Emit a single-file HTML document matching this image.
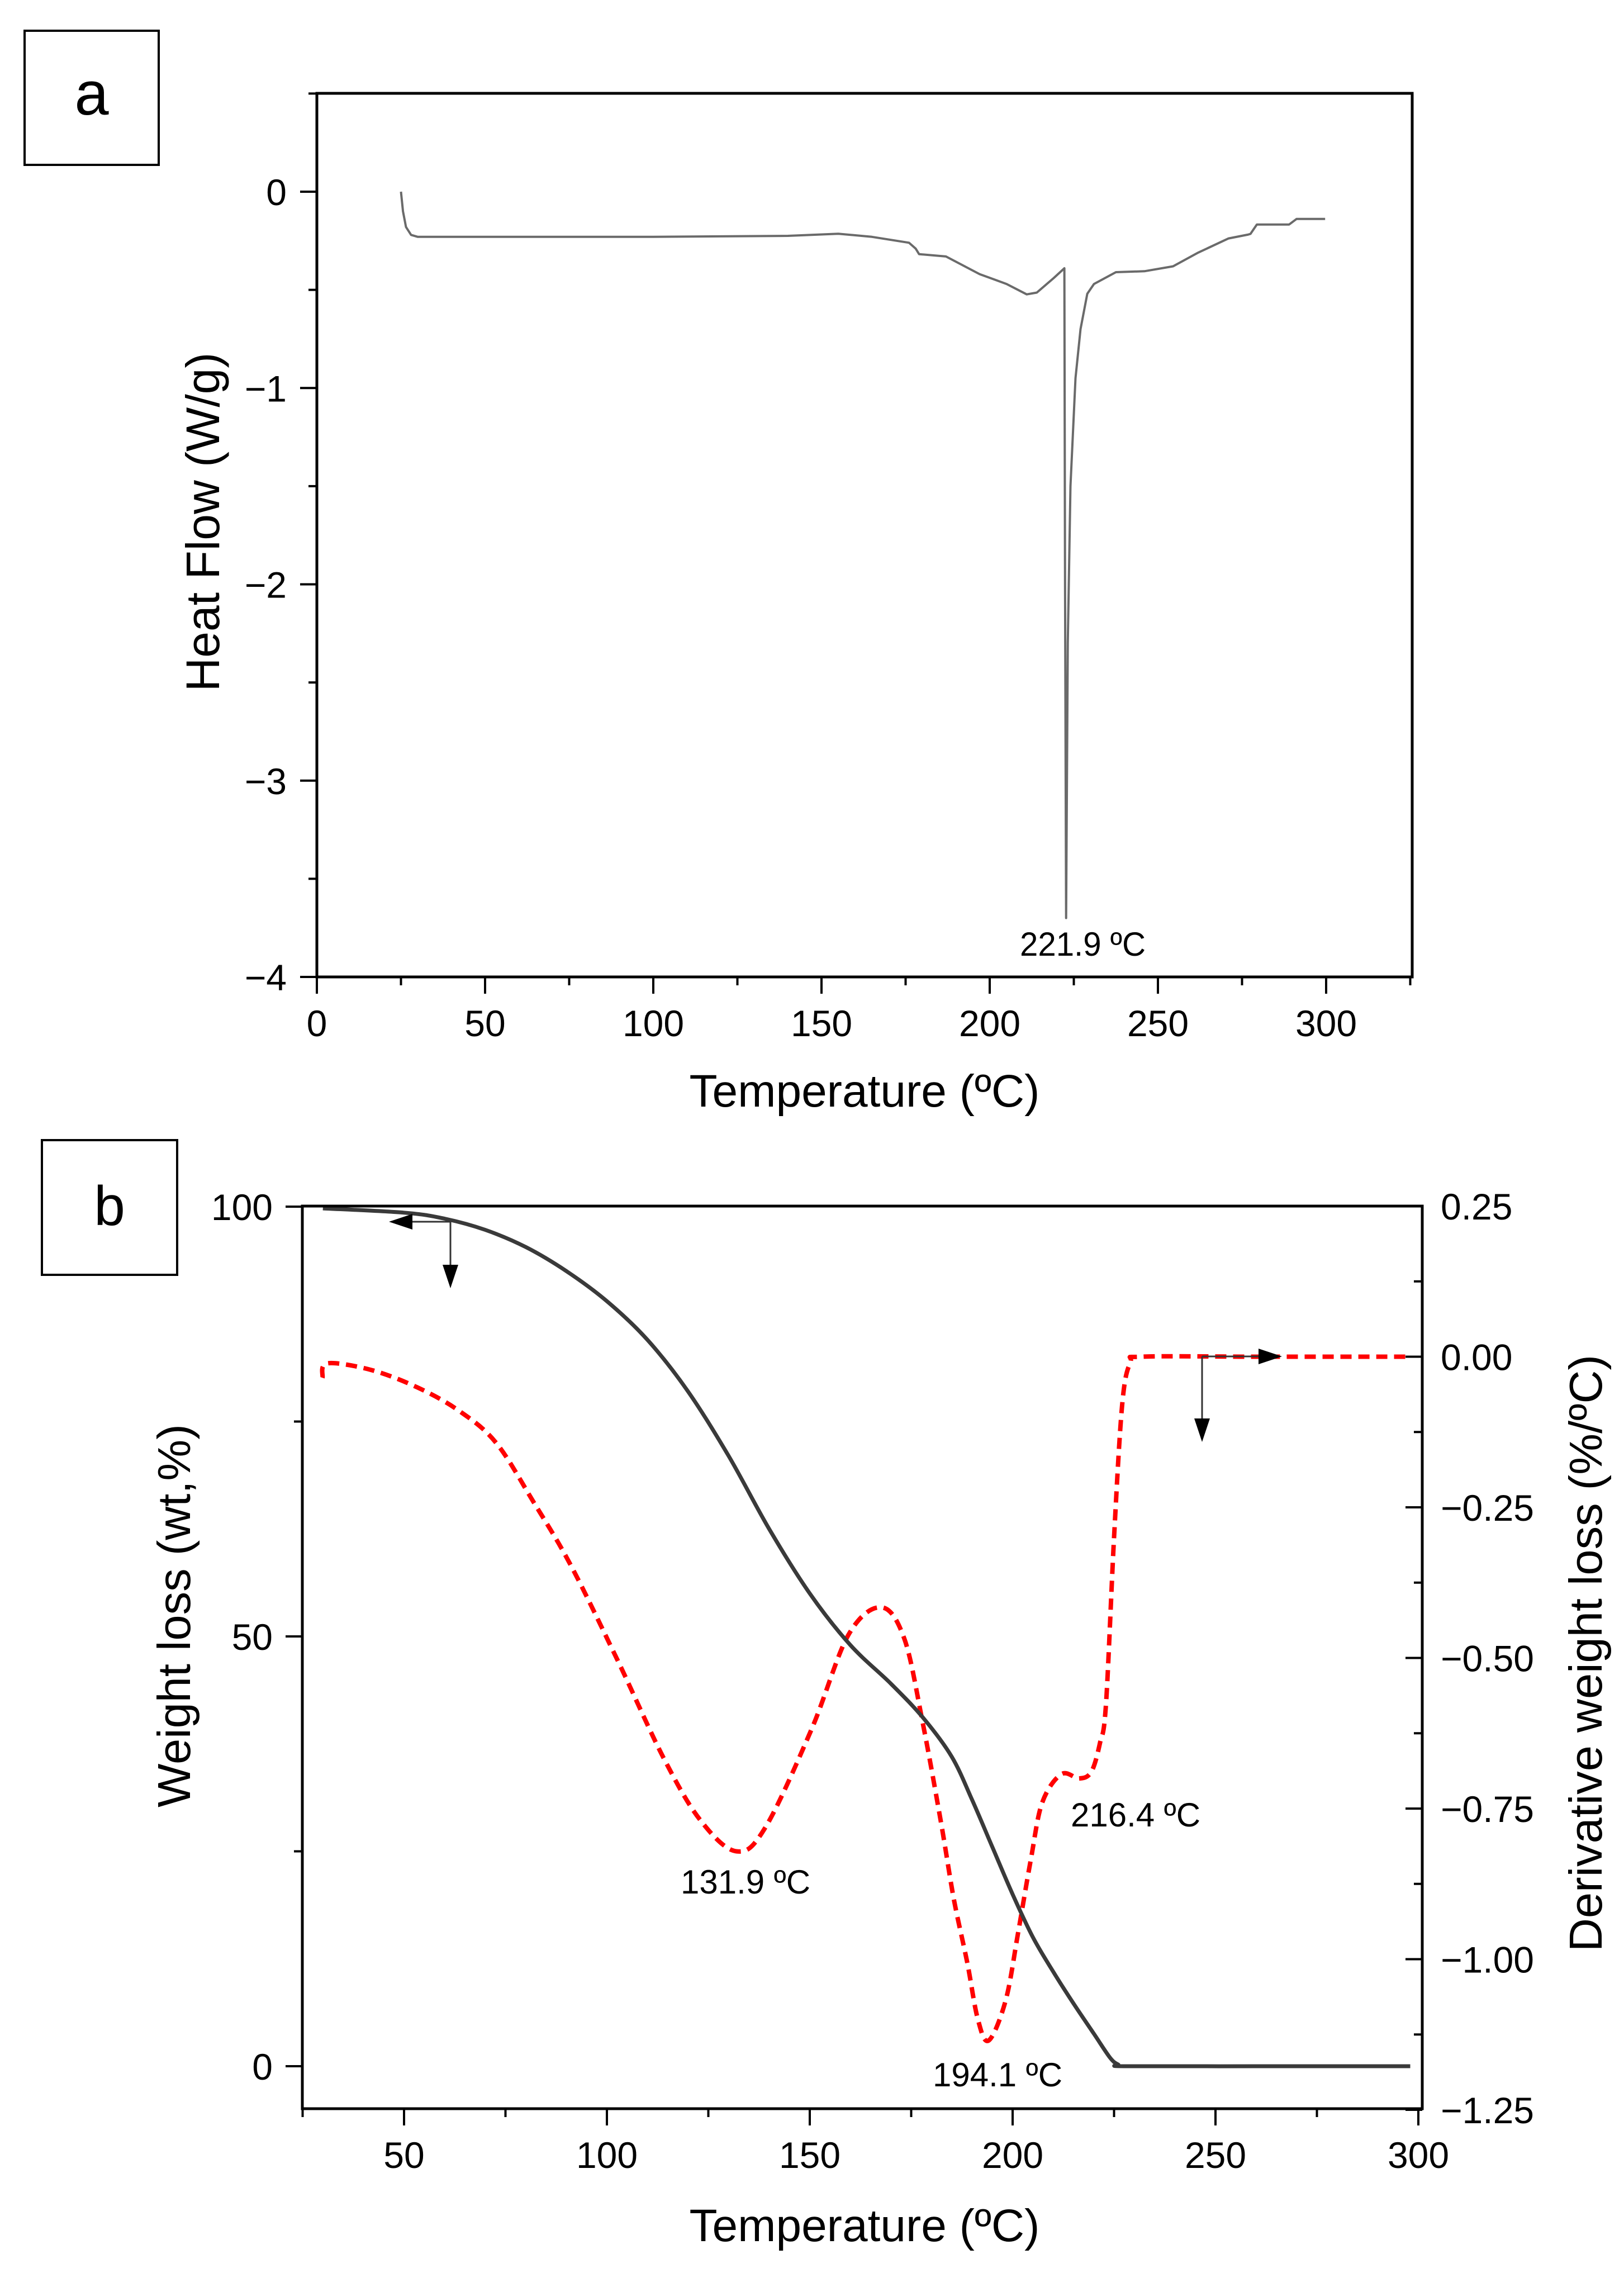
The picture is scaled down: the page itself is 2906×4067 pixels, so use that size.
<!DOCTYPE html>
<html><head><meta charset="utf-8"><style>
html,body{margin:0;padding:0;background:#fff;}
svg{display:block;font-family:"Liberation Sans",Arial,sans-serif;}
</style></head><body>
<svg id="fig" width="2906" height="4067" viewBox="0 0 2906 4067" xmlns="http://www.w3.org/2000/svg">
<rect x="0" y="0" width="2906" height="4067" fill="#fff"/>
<g>
<rect x="44" y="55" width="240" height="240" fill="none" stroke="#000" stroke-width="4"/>
<text x="164" y="205" font-size="110" text-anchor="middle">a</text>
</g>
<g>
<rect x="75" y="2040" width="242" height="241" fill="none" stroke="#000" stroke-width="4"/>
<text x="196" y="2192" font-size="100" text-anchor="middle">b</text>
</g>
<g id="chartA"></g>
<g id="chartB"></g>
</svg>
<script>
// ---- Panel a data (DSC) ----
const dscTemp = [25,25.6,26.5,28,30,50,100,140,155,165,176,178,179,187,197,205,211,214,219,222.2,222.4,222.7,223.2,224,225.5,227,229,231,237.5,246,254.5,262,271,276.7,277.5,279.4,289,291.2,299.7];
const dscHeat = [0,-0.1,-0.18,-0.22,-0.23,-0.23,-0.23,-0.225,-0.214,-0.23,-0.26,-0.29,-0.318,-0.33,-0.42,-0.47,-0.523,-0.514,-0.44,-0.39,-2.0,-3.7,-2.3,-1.5,-0.95,-0.7,-0.52,-0.47,-0.41,-0.405,-0.38,-0.31,-0.238,-0.219,-0.215,-0.167,-0.167,-0.139,-0.139];
const dscXTicks = [0,50,100,150,200,250,300];
const dscYTicks = [0,-1,-2,-3,-4];
// ---- Panel b data (TGA / DTG) ----
const tgaTemp = [30,50,60,70,80,90,100,110,120,130,140,150,160,170,178,185,190,195,200,205,210,215,220,224,226,228,260,298];
const tgaWeight = [99.8,99.3,98.6,97.3,95.3,92.5,89,84.5,78.5,71,62.5,55,49,44.5,40.5,36,31,25.5,20,15,11,7.3,3.8,1,0.2,0,0,0];
const dtgTemp = [29.9,31.1,41.9,53.3,63.6,72.7,81.9,91,102.5,113.9,123,131.9,139,150.4,159.5,167.6,173.3,177.8,182.4,185.5,188.8,191.4,194.1,198.3,201.4,204.5,207.3,212,216.4,219.4,221.5,223,225,227,229,232,260,298];
const dtgDeriv = [-0.035,-0.011,-0.022,-0.051,-0.09,-0.143,-0.241,-0.345,-0.502,-0.665,-0.769,-0.821,-0.782,-0.619,-0.462,-0.416,-0.468,-0.606,-0.775,-0.9,-1.005,-1.099,-1.135,-1.068,-0.954,-0.834,-0.74,-0.693,-0.70,-0.689,-0.642,-0.578,-0.3,-0.08,-0.01,0,0,0];
const tgaXTicks = [50,100,150,200,250,300];
const tgaYTicks = [0,50,100];
const dtgYTicks = [0.25,0,-0.25,-0.5,-0.75,-1,-1.25];
const dtgYLabels = ["0.25","0.00","\u22120.25","\u22120.50","\u22120.75","\u22121.00","\u22121.25"];
const annA = [{t:"221.9 ºC"}];
const annB = ["131.9 ºC","194.1 ºC","216.4 ºC"];

const NS="http://www.w3.org/2000/svg";
function mk(parent,tag,attrs,text){const e=document.createElementNS(NS,tag);for(const k in attrs)e.setAttribute(k,attrs[k]);if(text!==undefined)e.textContent=text;parent.appendChild(e);return e;}
function smoothPath(pts){let d="M"+pts[0][0].toFixed(1)+","+pts[0][1].toFixed(1);for(let i=1;i<pts.length;i++)d+=" L"+pts[i][0].toFixed(1)+","+pts[i][1].toFixed(1);return d;}
function catmull(pts){let d="M"+pts[0][0].toFixed(1)+","+pts[0][1].toFixed(1);for(let i=0;i<pts.length-1;i++){const p0=pts[Math.max(0,i-1)],p1=pts[i],p2=pts[i+1],p3=pts[Math.min(pts.length-1,i+2)];const c1=[p1[0]+(p2[0]-p0[0])/6,p1[1]+(p2[1]-p0[1])/6],c2=[p2[0]-(p3[0]-p1[0])/6,p2[1]-(p3[1]-p1[1])/6];d+=" C"+c1[0].toFixed(1)+","+c1[1].toFixed(1)+" "+c2[0].toFixed(1)+","+c2[1].toFixed(1)+" "+p2[0].toFixed(1)+","+p2[1].toFixed(1);}return d;}

// ===== Panel a =====
(function(){
const g=document.getElementById('chartA');
const L=567,R=2527,T=167,B=1748;
const xA=v=>L+v*6.02;
const yA=v=>343-v*351.25;
const pts=dscTemp.map((t,i)=>[xA(t),yA(dscHeat[i])]);
const c=mk(g,'path',{d:smoothPath(pts),fill:'none',stroke:'#6a6a6a','stroke-width':4,'stroke-linejoin':'round'});


const f=mk(g,'rect',{x:L,y:T,width:R-L,height:B-T,fill:'none',stroke:'#000','stroke-width':5});


for(let v=0;v<=325;v+=25){const major=v%50===0;mk(g,'line',{x1:xA(v),y1:B,x2:xA(v),y2:B+(major?30:15),stroke:'#000','stroke-width':4});}
dscXTicks.forEach(v=>{const t=mk(g,'text',{x:xA(v),y:1854,'font-size':66,'text-anchor':'middle'},String(v));

});
for(let v=0.5;v>=-4;v-=0.5){const major=Math.abs(v-Math.round(v))<1e-6;mk(g,'line',{x1:L,y1:yA(v),x2:L-(major?30:15),y2:yA(v),stroke:'#000','stroke-width':4});}
dscYTicks.forEach(v=>{const t=mk(g,'text',{x:513,y:yA(v)+24,'font-size':66,'text-anchor':'end'},v===0?"0":"\u2212"+Math.abs(v));

});
const xt=mk(g,'text',{x:1547,y:1980,'font-size':82,'text-anchor':'middle'},"Temperature (ºC)");


const yt=mk(g,'text',{x:0,y:0,'font-size':84,'text-anchor':'middle',transform:'translate(392,934) rotate(-90)'},"Heat Flow (W/g)");


const an=mk(g,'text',{x:1825,y:1710,'font-size':60,textLength:225,lengthAdjust:'spacingAndGlyphs'},annA[0].t);


})();

// ===== Panel b =====
(function(){
const g=document.getElementById('chartB');
const L=541,R=2545,T=2158,B=3773;
const xB=v=>723+(v-50)*7.26;
const yL=v=>3697-v*15.38;
const yR=v=>2158+(0.25-v)*1078;
const dp=dtgTemp.map((t,i)=>[xB(t),yR(dtgDeriv[i])]);
const dl=mk(g,'path',{d:catmull(dp),fill:'none',stroke:'#ff0000','stroke-width':8,'stroke-dasharray':'20 12'});


const tp=tgaTemp.map((t,i)=>[xB(t),yL(tgaWeight[i])]);
const tl=mk(g,'path',{d:catmull(tp),fill:'none',stroke:'#3a3a3a','stroke-width':7});


const f=mk(g,'rect',{x:L,y:T,width:R-L,height:B-T,fill:'none',stroke:'#000','stroke-width':5});


for(let v=25;v<=300;v+=25){const major=v%50===0;mk(g,'line',{x1:xB(v),y1:B,x2:xB(v),y2:B+(major?30:15),stroke:'#000','stroke-width':4});}
tgaXTicks.forEach(v=>{const t=mk(g,'text',{x:xB(v),y:3879,'font-size':66,'text-anchor':'middle'},String(v));

});
for(let v=0;v<=100;v+=25){const major=v%50===0;mk(g,'line',{x1:L,y1:yL(v),x2:L-(major?30:15),y2:yL(v),stroke:'#000','stroke-width':4});}
tgaYTicks.forEach(v=>{const t=mk(g,'text',{x:488,y:yL(v)+24,'font-size':66,'text-anchor':'end'},String(v));

});
for(let v=0.25;v>=-1.25-1e-6;v-=0.125){const k=Math.round(v*8);const major=k%2===0;mk(g,'line',{x1:R,y1:yR(v),x2:R-(major?30:15),y2:yR(v),stroke:'#000','stroke-width':4});}
dtgYTicks.forEach((v,i)=>{const t=mk(g,'text',{x:2578,y:yR(v)+24,'font-size':66},dtgYLabels[i]);

});
const xt=mk(g,'text',{x:1547,y:4010,'font-size':82,'text-anchor':'middle'},"Temperature (ºC)");


const yt=mk(g,'text',{x:0,y:0,'font-size':83,'text-anchor':'middle',transform:'translate(340,2891) rotate(-90)'},"Weight loss (wt,%)");


const yt2=mk(g,'text',{x:0,y:0,'font-size':83,'text-anchor':'middle',transform:'translate(2866,2958) rotate(-90)'},"Derivative weight loss (%/ºC)");


const pos=[[1334,3388],[1785,3733],[2032,3268]];
annB.forEach((s,i)=>{const t=mk(g,'text',{x:pos[i][0],y:pos[i][1],'font-size':60,'text-anchor':'middle'},s);

});
function arrow(x1,y1,x2,y2,name){const ag=mk(g,'g',{});


const dx=x2-x1,dy=y2-y1,len=Math.hypot(dx,dy),ux=dx/len,uy=dy/len;const hl=42,hw=14;
const bx=x2-ux*hl,by=y2-uy*hl;
mk(ag,'line',{x1:x1,y1:y1,x2:bx,y2:by,stroke:'#333','stroke-width':3});
mk(ag,'polygon',{points:`${x2},${y2} ${bx-uy*hw},${by+ux*hw} ${bx+uy*hw},${by-ux*hw}`,fill:'#000'});}
arrow(806,2186,696,2186,'left-axis-arrow');
arrow(806,2186,806,2305,'down-arrow-tga');
arrow(2151,2427,2294,2427,'right-axis-arrow');
arrow(2151,2427,2151,2580,'down-arrow-dtg');
})();
</script>
</body></html>
